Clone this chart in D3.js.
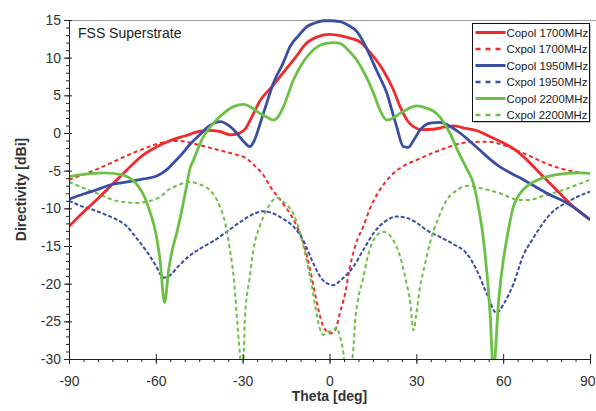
<!DOCTYPE html>
<html>
<head>
<meta charset="utf-8">
<script src="https://cdn.jsdelivr.net/npm/d3@7"></script>
<style>
  body { margin: 0; background: #fff; }
  svg { font-family: "Liberation Sans", Arial, sans-serif; }
</style>
</head>
<body>
<svg id="chart" width="596" height="411"></svg>
<script>
(function () {
  const thetaTicks = [-90, -60, -30, 0, 30, 60, 90];
  const dbTicks = [15, 10, 5, 0, -5, -10, -15, -20, -25, -30];

  // Copol 1700MHz
  const copol1700Theta = [-90, -85, -80, -75, -70, -65, -60, -55, -50, -45, -42, -38, -34, -31, -29, -27, -24, -20, -16, -12, -8, -4, 0, 4, 8, 10.5, 14, 18.6, 22, 24.4, 27, 29, 32, 36, 40, 43, 47, 51, 55.5, 60, 64, 68, 72.7, 78.5, 84.3, 90];
  const copol1700 = [-12.4, -10.5, -8.7, -6.8, -4.9, -3.1, -1.9, -1.0, -0.4, 0.2, 0.35, 0.2, -0.25, 0.0, 0.6, 2.0, 4.3, 6.1, 8.0, 9.9, 11.9, 12.8, 13.1, 12.9, 12.5, 12.1, 10.7, 8.3, 5.8, 3.5, 1.6, 0.84, 0.45, 0.5, 0.8, 0.95, 0.6, 0.3, -0.5, -1.3, -2.2, -3.5, -5.35, -7.6, -9.8, -11.5];

  // Cxpol 1700MHz
  const cxpol1700Theta = [-90, -85, -81.6, -75, -70, -65, -60, -55, -52, -48, -44, -38, -33, -28.6, -26, -23, -20.5, -16, -12, -9, -6.5, -4.8, -3.8, -2.1, 0.2, 1.9, 3.6, 5.4, 7.1, 9.5, 11.7, 14, 17, 20.9, 25, 30, 36, 41.6, 45, 49.7, 55, 60, 64.7, 70, 76.2, 83, 90];
  const cxpol1700 = [-6.2, -5.5, -5.0, -3.9, -3.0, -2.2, -1.5, -1.1, -1.05, -1.3, -1.7, -2.3, -2.8, -3.4, -4.3, -5.5, -7.1, -9.4, -11.8, -14.6, -18.5, -21.7, -23.5, -25.7, -26.6, -26.2, -23.9, -21.3, -17.7, -14.3, -12.4, -10.0, -7.8, -5.8, -4.5, -3.6, -2.6, -1.8, -1.4, -1.2, -1.15, -1.6, -2.3, -3.2, -4.25, -5.0, -5.4];

  // Copol 1950MHz
  const copol1950Theta = [-90, -85, -81.6, -75.8, -70, -64.3, -59.7, -56, -54, -51, -48.2, -45, -41.3, -37.8, -34.5, -32.1, -29.5, -27.5, -26, -24, -22, -19.4, -16, -13.6, -10.5, -7.9, -5, -2.1, 0.5, 3.6, 6.5, 9.4, 12.5, 15.2, 17.5, 19.8, 21.5, 23.2, 25.5, 27.2, 29, 31.3, 34.7, 38.2, 41.6, 45.1, 48.5, 52, 55.5, 58.9, 63, 67, 71, 75.1, 82, 86, 90];
  const copol1950 = [-8.8, -8.1, -7.7, -6.9, -6.5, -6.1, -5.7, -4.8, -4.0, -2.8, -1.5, -0.3, 1.0, 1.5, 0.9, 0.0, -1.2, -1.8, -1.0, 1.2, 3.6, 6.6, 9.3, 11.5, 13.0, 14.1, 14.6, 14.9, 14.9, 14.8, 14.3, 13.5, 11.5, 9.2, 7.3, 5.3, 3.1, 0.84, -1.8, -1.9, -1.0, 0.4, 1.3, 1.4, 0.9, 0.0, -1.1, -2.3, -3.5, -4.5, -5.4, -6.2, -7.1, -8.0, -9.3, -10.3, -11.5];

  // Cxpol 1950MHz
  const cxpol1950Theta = [-90, -85, -81.6, -77, -73.5, -70, -66.6, -63, -60, -57.4, -55.5, -52, -49, -43.6, -39.5, -35.5, -30, -26, -23, -20, -16, -12.5, -9, -5.6, -3, 0, 1.3, 4, 8.3, 12, 15.2, 19, 23.2, 27, 30, 33.6, 38.2, 43, 47.4, 51, 54.3, 57.8, 60, 63.6, 67, 70, 73, 76.2, 82, 86, 90];
  const cxpol1950 = [-9.0, -9.8, -10.2, -10.9, -11.5, -12.4, -14.0, -15.8, -17.6, -19.2, -19.0, -17.6, -16.5, -15.1, -14.2, -13.1, -11.6, -10.7, -10.4, -10.6, -11.4, -12.4, -14.3, -17.3, -19.2, -20.1, -20.2, -19.5, -17.7, -15.3, -13.3, -11.8, -11.1, -11.3, -11.9, -12.9, -13.8, -14.8, -16.0, -18.3, -21.3, -23.9, -22.8, -20.0, -16.2, -14.2, -12.4, -10.8, -9.2, -8.4, -7.8];

  // Copol 2200MHz
  const copol2200Theta = [-90, -85, -81.6, -78, -72.4, -70, -67, -64, -62, -60, -58.5, -57, -55.5, -54, -52.8, -51, -49.5, -48.2, -47, -44, -40.1, -36, -33.2, -29.5, -27.5, -24, -22, -19.4, -17.5, -15.9, -12.5, -9.5, -6.7, -3.5, -1, 1.5, 3.6, 6.5, 9.4, 12.5, 15.2, 17.5, 19.8, 21.5, 24.4, 27, 30.1, 33.5, 37, 41.6, 44.5, 47.5, 49.7, 51, 53.2, 55.5, 56.6, 58.5, 60, 61.2, 63.5, 65.5, 68.1, 71.5, 75.1, 82, 86, 90];
  const copol2200 = [-5.8, -5.5, -5.35, -5.3, -5.5, -5.8, -6.6, -8.4, -10.5, -13.3, -17, -22.5, -18, -15, -13.3, -10.2, -7.3, -4.7, -3.6, -0.8, 1.3, 2.8, 3.5, 3.8, 3.5, 2.6, 2.2, 1.7, 2.3, 3.5, 7.0, 9.2, 10.6, 11.6, 11.9, 12.0, 11.9, 11.0, 9.7, 7.6, 5.3, 3.0, 1.7, 1.9, 2.6, 3.2, 3.6, 3.3, 2.6, 0.0, -2.5, -4.8, -6.7, -8.9, -14.2, -24, -31.5, -22, -17, -14.2, -9.8, -8.2, -7.1, -6.3, -5.8, -5.35, -5.3, -5.35];

  // Cxpol 2200MHz
  const cxpol2200Theta = [-90, -85, -81.6, -78, -74.7, -70, -66.6, -63, -58.6, -55.1, -52.8, -48.2, -45, -41.3, -37.8, -36, -34.4, -33, -32, -30.9, -30.2, -29.6, -29.2, -27.5, -26.3, -24, -21.7, -18.2, -15.5, -12.5, -10, -7.9, -6, -4.8, -3.8, -2.1, -0.4, 1.3, 2.5, 3.6, 4.8, 5.8, 7.5, 8.3, 8.8, 9.8, 11.5, 12.9, 15.5, 18.6, 21.5, 24.4, 26.5, 27.8, 29, 30, 31.3, 33, 34.7, 37.5, 40.5, 44, 48, 52, 58.9, 65.8, 69, 72.7, 77, 82, 86, 90];
  const cxpol2200 = [-6.5, -7.3, -7.8, -8.4, -8.9, -9.2, -9.3, -9.1, -8.5, -7.4, -7.0, -6.5, -6.8, -7.6, -9.8, -12, -15.5, -19.5, -24.4, -29.7, -33, -29, -24.4, -19, -15.5, -12.3, -10.2, -8.6, -9.3, -10.7, -13.5, -16.9, -20.5, -23.3, -25.3, -26.8, -26.4, -26.2, -25.8, -27, -29.2, -33, -31, -28.4, -25.3, -22.2, -19.5, -16.9, -14.0, -13.1, -13.9, -16.4, -19.8, -22.2, -26.2, -24, -20.4, -17.4, -14.6, -11.4, -8.9, -7.6, -7.0, -7.3, -8.0, -8.9, -8.9, -8.5, -8.0, -7.4, -6.8, -6.2];

  const red = "#f02a2a";
  const blue = "#3b4ea6";
  const green = "#6cc044";

  const series = [
    { name: "Copol 1700MHz", theta: copol1700Theta, values: copol1700, color: red, dash: null },
    { name: "Cxpol 1700MHz", theta: cxpol1700Theta, values: cxpol1700, color: red, dash: "4,3" },
    { name: "Copol 1950MHz", theta: copol1950Theta, values: copol1950, color: blue, dash: null },
    { name: "Cxpol 1950MHz", theta: cxpol1950Theta, values: cxpol1950, color: blue, dash: "4,2" },
    { name: "Copol 2200MHz", theta: copol2200Theta, values: copol2200, color: green, dash: null },
    { name: "Cxpol 2200MHz", theta: cxpol2200Theta, values: cxpol2200, color: green, dash: "4,3" },
  ];

  const svg = d3.select("#chart");
  const margin = { top: 20, right: 6, bottom: 52, left: 69 };
  const width = 596 - margin.left - margin.right;
  const height = 411 - margin.top - margin.bottom;

  const x = d3.scaleLinear().domain([-90, 90]).range([0, width]);
  const y = d3.scaleLinear().domain([-30, 15]).range([height, 0]);

  const g = svg.append("g").attr("transform", `translate(${margin.left},${margin.top})`);

  // frame line on top
  g.append("line")
    .attr("x1", 0).attr("x2", width + margin.right)
    .attr("y1", 0.5).attr("y2", 0.5)
    .attr("stroke", "#9a9a9a").attr("stroke-width", 1);

  g.append("clipPath").attr("id", "plot-clip")
    .append("rect").attr("x", 0).attr("y", -3).attr("width", width).attr("height", height + 3);

  const line = d3.line()
    .x((d) => x(d[0]))
    .y((d) => y(d[1]))
    .curve(d3.curveMonotoneX);

  const lines = g.append("g").attr("clip-path", "url(#plot-clip)");
  // cross-pol first, co-pol on top
  const order = [1, 3, 5, 0, 2, 4];
  order.forEach((i) => {
    const s = series[i];
    lines.append("path")
      .datum(d3.zip(s.theta, s.values))
      .attr("fill", "none")
      .attr("stroke", s.color)
      .attr("stroke-width", s.dash ? 2 : 2.8)
      .attr("stroke-dasharray", s.dash)
      .attr("stroke-linejoin", "round")
      .attr("d", line);
  });

  // minor ticks
  g.append("g")
    .attr("transform", `translate(0,${height})`)
    .call(d3.axisBottom(x).tickValues(d3.range(-90, 91, 5)).tickFormat("").tickSize(3).tickSizeOuter(0))
    .call((a) => a.select(".domain").remove())
    .selectAll("line").attr("stroke", "#222");
  g.append("g")
    .call(d3.axisLeft(y).tickValues(d3.range(-30, 16, 1)).tickFormat("").tickSize(3).tickSizeOuter(0))
    .call((a) => a.select(".domain").remove())
    .selectAll("line").attr("stroke", "#222");

  // major axes (plain hyphen minus like the original)
  const fmt = (d) => String(d);
  const xAxis = g.append("g")
    .attr("transform", `translate(0,${height})`)
    .call(d3.axisBottom(x).tickValues(thetaTicks).tickFormat(fmt).tickSize(5).tickSizeOuter(0).tickPadding(12));
  xAxis.selectAll(".tick line").attr("y1", -5);
  xAxis.selectAll("text").attr("font-size", 14).attr("fill", "#333");
  xAxis.selectAll("text").filter((d) => d === 90).attr("text-anchor", "end").attr("dx", 5);

  const yAxis = g.append("g")
    .call(d3.axisLeft(y).tickValues(dbTicks).tickFormat(fmt).tickSize(5).tickSizeOuter(0).tickPadding(3));
  yAxis.selectAll(".tick line").attr("x1", 3);
  yAxis.selectAll("text").attr("font-size", 14).attr("fill", "#333");

  [xAxis, yAxis].forEach((a) => {
    a.select(".domain").attr("stroke", "#222");
    a.selectAll(".tick line").attr("stroke", "#222");
    a.attr("font-family", null);
  });

  // axis titles
  svg.append("text")
    .attr("x", margin.left + width / 2).attr("y", 401)
    .attr("text-anchor", "middle")
    .attr("font-size", 14).attr("font-weight", "bold").attr("fill", "#333")
    .text("Theta [deg]");

  svg.append("text")
    .attr("transform", `translate(26,${margin.top + height / 2}) rotate(-90)`)
    .attr("text-anchor", "middle")
    .attr("font-size", 14).attr("font-weight", "bold").attr("fill", "#333")
    .text("Directivity [dBi]");

  svg.append("text")
    .attr("x", 78).attr("y", 38)
    .attr("font-size", 14).attr("fill", "#222")
    .text("FSS Superstrate");

  // legend
  const legend = svg.append("g").attr("transform", "translate(472.5,23.5)");
  legend.append("rect")
    .attr("x", 1.5).attr("y", 1.5).attr("width", 117).attr("height", 98)
    .attr("fill", "#c8c8c8");
  legend.append("rect")
    .attr("width", 117).attr("height", 98)
    .attr("fill", "#fff").attr("stroke", "#111").attr("stroke-width", 1);

  series.forEach((s, i) => {
    const row = legend.append("g").attr("transform", `translate(0,${9 + i * 16.5})`);
    row.append("line")
      .attr("x1", 3).attr("x2", 33)
      .attr("stroke", s.color)
      .attr("stroke-width", s.dash ? 2.5 : 3)
      .attr("stroke-dasharray", s.dash ? "5,5" : null);
    row.append("text")
      .attr("x", 34).attr("dy", "0.35em")
      .attr("font-size", 11.4).attr("fill", "#222")
      .text(s.name);
  });
})();
</script>
</body>
</html>
